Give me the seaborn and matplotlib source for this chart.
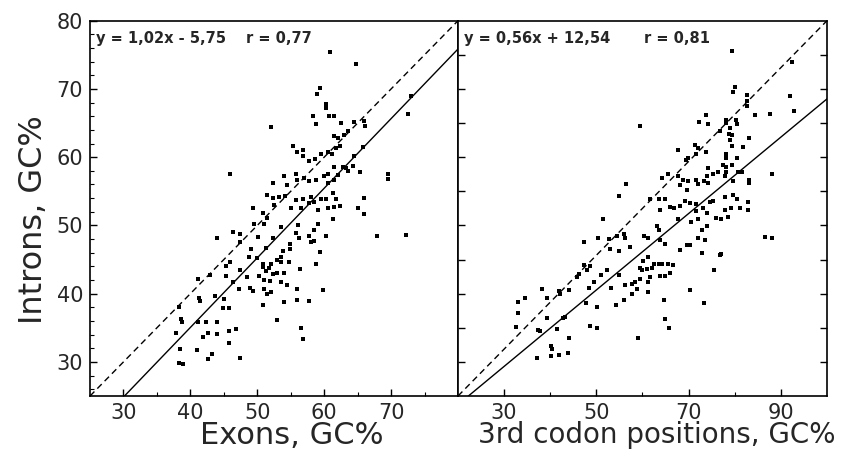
import matplotlib
matplotlib.use("Agg")
import matplotlib.pyplot as plt
import seaborn as sns
import pandas as pd

# exons GC% vs introns GC%
exon_gc = [60.8, 64.8, 59.4, 58.9, 60.3, 60.3, 58.3, 60.7, 61.5, 58.8, 62.5, 64.5, 66.0, 66.1,
           73.0, 72.5, 52.1, 63.5, 63.0, 62.0, 61.5, 62.3, 61.8, 55.3, 56.0, 56.8, 56.8, 57.8,
           58.7, 59.5, 60.5, 61.1, 65.8, 64.5, 62.8, 63.5, 64.3, 65.3, 45.9, 69.5, 69.6, 61.5,
           60.5, 60.0, 62.0, 52.3, 54.0, 55.8, 56.0, 57.0, 57.8, 58.8, 60.5, 61.4, 54.5, 51.4,
           52.4, 53.3, 54.1, 52.5, 55.8, 56.8, 58.0, 58.5, 59.5, 60.3, 61.3, 61.8, 49.4, 50.8,
           51.5, 55.0, 56.5, 57.8, 59.0, 60.5, 61.5, 62.3, 65.0, 66.0, 65.9, 49.5, 51.0, 56.1,
           59.0, 61.3, 53.5, 58.5, 44.0, 46.4, 47.4, 47.4, 50.1, 52.3, 55.8, 56.3, 57.8, 58.0,
           58.5, 60.3, 49.0, 51.3, 54.9, 54.9, 53.9, 59.3, 58.8, 53.5, 53.6, 54.8, 53.0, 48.8,
           49.9, 50.8, 50.8, 52.0, 51.8, 51.3, 52.3, 53.0, 54.0, 50.3, 51.0, 51.9, 53.5, 54.5,
           48.5, 47.4, 56.4, 45.3, 45.9, 45.3, 46.3, 47.3, 48.9, 49.4, 51.0, 51.5, 52.1, 50.8,
           54.0, 55.9, 56.0, 57.7, 59.8, 41.1, 42.9, 41.3, 41.5, 43.7, 45.0, 44.8, 45.8, 38.3,
           38.6, 38.8, 41.1, 42.3, 44.0, 37.9, 42.7, 44.0, 41.9, 45.8, 46.8, 45.8, 38.5, 41.0,
           43.3, 42.6, 47.4, 38.3, 38.9, 53.0, 56.5, 56.9, 67.9, 72.3, 63.3]
intron_gc_1 = [75.4, 73.6, 70.2, 69.3, 67.8, 67.2, 66.1, 66.0, 66.1, 64.8, 65.0, 65.1, 65.3, 64.6,
               68.9, 66.3, 64.4, 63.8, 63.3, 62.8, 63.1, 61.7, 61.3, 61.7, 60.8, 61.0, 60.2, 59.5,
               59.8, 60.5, 60.8, 60.5, 61.5, 60.1, 58.6, 58.0, 58.7, 57.9, 57.6, 57.5, 56.8, 58.6,
               57.6, 57.2, 57.4, 56.2, 57.3, 57.6, 56.7, 56.9, 56.5, 56.7, 56.2, 56.7, 55.9, 54.5,
               54.0, 54.1, 54.3, 53.0, 53.7, 53.8, 54.2, 53.5, 53.8, 53.8, 54.7, 53.8, 52.6, 51.8,
               51.1, 52.5, 52.5, 53.3, 52.2, 52.5, 52.7, 52.8, 52.6, 54.0, 51.7, 50.2, 50.2, 50.1,
               50.2, 51.0, 49.7, 49.4, 48.1, 49.1, 48.8, 47.5, 48.3, 48.2, 48.9, 48.1, 48.4, 47.5,
               47.7, 48.5, 46.5, 46.7, 47.3, 46.6, 46.2, 46.1, 44.4, 45.4, 44.7, 44.6, 45.0, 45.3,
               45.2, 44.4, 43.9, 44.4, 43.8, 43.3, 42.9, 43.1, 43.1, 42.6, 42.0, 41.8, 41.7, 41.2,
               42.4, 43.4, 43.6, 44.1, 44.7, 42.6, 41.7, 40.7, 40.9, 40.4, 40.7, 40.0, 40.3, 38.3,
               38.8, 40.7, 39.1, 38.9, 40.6, 42.1, 42.8, 39.4, 38.9, 39.7, 39.2, 37.9, 37.9, 38.1,
               36.3, 35.9, 35.9, 35.9, 35.9, 34.3, 34.3, 34.1, 33.7, 34.6, 34.8, 32.8, 31.9, 31.7,
               31.1, 30.4, 30.6, 29.9, 29.7, 36.2, 34.9, 33.3, 48.4, 48.6, 58.4]

# 3rd codon positions GC% vs introns GC%
codon3_gc = [79.5, 92.4, 80.0, 79.6, 82.7, 82.7, 82.7, 91.9, 84.3, 87.7, 92.9, 73.7, 72.3, 74.2,
             59.4, 78.1, 78.1, 80.2, 80.5, 76.7, 78.9, 78.8, 79.3, 78.9, 79.3, 83.2, 81.8, 71.4,
             72.1, 71.7, 73.7, 67.6, 69.9, 69.4, 78.2, 78.1, 80.5, 74.2, 77.5, 78.2, 80.8, 79.5,
             88.1, 81.5, 83.1, 83.1, 78.1, 77.8, 79.6, 73.9, 75.3, 76.4, 73.4, 74.3, 71.7, 72.1,
             68.8, 68.1, 69.9, 69.7, 67.6, 64.2, 65.6, 56.5, 55.0, 61.7, 63.5, 63.7, 64.9, 66.0,
             66.8, 68.1, 69.2, 70.3, 71.7, 73.2, 74.6, 75.3, 77.8, 79.6, 80.4, 77.8, 79.2, 81.1,
             82.9, 82.9, 71.7, 73.9, 72.1, 76.0, 77.1, 78.5, 51.4, 63.2, 67.6, 70.6, 73.9, 72.8,
             47.4, 50.3, 52.7, 54.5, 55.9, 56.3, 57.2, 54.8, 53.0, 60.4, 61.3, 63.5, 63.8, 64.9,
             69.6, 70.3, 68.1, 72.1, 73.5, 72.8, 77.1, 76.7, 75.5, 86.5, 88.1, 47.3, 48.0, 46.2,
             45.8, 48.7, 49.4, 48.3, 50.9, 52.3, 53.2, 54.8, 56.3, 56.0, 54.3, 57.7, 58.4, 59.5,
             59.5, 60.2, 61.3, 62.4, 63.5, 64.2, 65.6, 66.7, 59.9, 60.9, 62.0, 61.7, 61.3, 63.7,
             64.9, 66.0, 61.3, 58.8, 57.7, 64.7, 64.9, 65.8, 70.4, 73.3, 59.1, 32.9, 32.9, 34.5,
             32.5, 38.3, 39.2, 39.3, 37.8, 37.3, 41.9, 42.2, 44.0, 42.8, 43.3, 41.4, 44.0, 40.2,
             40.4, 40.1, 41.9, 43.8, 37.1, 48.6, 50.1, 47.8, 50.1]
intron_gc_2 = [75.5, 73.9, 70.3, 69.6, 69.1, 68.3, 67.5, 68.9, 66.2, 66.3, 66.7, 66.2, 65.1, 64.9,
               64.5, 65.5, 65.0, 65.5, 64.8, 63.8, 64.3, 63.4, 63.2, 62.5, 61.7, 62.8, 61.5, 61.8,
               61.3, 60.5, 60.8, 61.0, 59.9, 59.6, 60.5, 59.9, 59.9, 58.4, 58.8, 58.6, 57.9, 58.8,
               57.5, 57.8, 56.7, 56.2, 57.9, 57.2, 56.5, 57.2, 57.5, 57.8, 56.5, 56.2, 56.7, 56.0,
               56.7, 55.9, 56.5, 55.2, 57.2, 56.9, 57.6, 56.1, 54.3, 53.9, 53.8, 52.3, 53.9, 52.7,
               52.6, 52.8, 53.6, 53.3, 53.1, 52.6, 53.5, 53.6, 54.1, 54.5, 53.8, 52.3, 52.5, 52.5,
               53.4, 52.3, 52.1, 51.8, 50.9, 51.1, 50.9, 51.3, 51.0, 49.9, 50.9, 50.5, 49.9, 49.3,
               47.6, 48.2, 48.0, 48.4, 48.8, 48.2, 46.8, 46.3, 46.5, 48.4, 48.2, 49.4, 47.9, 47.3,
               47.1, 47.1, 46.4, 48.1, 47.9, 46.0, 45.8, 45.6, 43.5, 48.3, 48.1, 44.2, 43.4, 42.9,
               42.5, 44.1, 41.7, 40.9, 42.7, 43.4, 40.9, 42.7, 41.2, 39.0, 38.4, 39.9, 41.7, 42.1,
               43.8, 44.8, 45.3, 44.3, 44.4, 44.3, 44.4, 44.2, 43.4, 43.6, 43.7, 42.4, 41.7, 42.6,
               42.6, 43.0, 40.2, 40.7, 41.4, 39.1, 36.3, 35.0, 40.6, 38.7, 33.5, 38.8, 37.1, 39.4,
               35.1, 40.7, 39.4, 36.5, 34.5, 34.7, 40.4, 39.9, 40.5, 36.5, 36.6, 34.8, 33.5, 32.3,
               31.9, 30.8, 31.0, 31.3, 30.6, 35.2, 35.0, 38.6, 38.0]

# regression lines printed on the panels
fit_1 = {"slope": 1.02, "intercept": -5.75, "r": 0.77}
fit_2 = {"slope": 0.56, "intercept": 12.54, "r": 0.81}
eq_labels = ["y = 1,02x - 5,75", "y = 0,56x + 12,54"]
r_labels = ["r = 0,77", "r = 0,81"]
y_ticks = [30, 40, 50, 60, 70, 80]
x_ticks_1 = [30, 40, 50, 60, 70]
x_ticks_2 = [30, 50, 70, 90]

df1 = pd.DataFrame({"x": exon_gc, "y": intron_gc_1})
df2 = pd.DataFrame({"x": codon3_gc, "y": intron_gc_2})

sns.set_style("ticks")
plt.rcParams["font.family"] = ["DejaVu Sans"]

fig = plt.figure(figsize=(8.43, 4.53), dpi=100)
ax1 = fig.add_axes([0.1068, 0.1258, 0.4365, 0.8285])
ax2 = fig.add_axes([0.5433, 0.1258, 0.4377, 0.8285])

panels = [(ax1, df1, fit_1, (25, 80)), (ax2, df2, fit_2, (20, 100))]
for i, (ax, d, fit, xl) in enumerate(panels):
    sns.scatterplot(data=d, x="x", y="y", ax=ax, marker="s", s=10,
                    color="black", linewidth=0)
    ax.axline((0, fit["intercept"]), slope=fit["slope"], color="black", lw=1.0)
    # diagonal, corner to corner
    ax.plot([0, 1], [0, 1], transform=ax.transAxes, color="black", lw=1.0,
            linestyle=(0, (4.5, 3)))
    ax.set_xlim(*xl)
    ax.set_ylim(25, 80)
    ax.text(0.017, 0.953, eq_labels[i], transform=ax.transAxes, fontsize=10.5,
            fontweight="bold", va="center")
    ax.text(0.423 if i == 0 else 0.504, 0.953, r_labels[i], transform=ax.transAxes,
            fontsize=10.5, fontweight="bold", va="center")
    for sp in ax.spines.values():
        sp.set_visible(True)
        sp.set_linewidth(1.2)
        sp.set_color("black")
    ax.tick_params(which="both", direction="in", color="black", labelsize=15, pad=5)
    ax.tick_params(which="major", length=5, width=1)
    ax.tick_params(which="minor", length=3, width=0.8)

ax1.set_xticks(x_ticks_1)
ax1.set_xticks([35, 45, 55, 65, 75], minor=True)
ax1.set_yticks(y_ticks)
ax1.set_yticks(range(26, 80, 2), minor=True)
ax1.tick_params(axis="y", which="both", left=True, right=False)

ax2.set_xticks(x_ticks_2)
ax2.set_xticks([40, 60, 80], minor=True)
ax2.set_yticks(range(30, 80, 5))
ax2.set_yticks([], minor=True)
ax2.tick_params(axis="y", which="both", left=True, right=True, labelleft=False)

ax1.set_xlabel("Exons, GC%", fontsize=22)
ax1.xaxis.set_label_coords(0.548, -0.067)
ax1.set_ylabel("Introns, GC%", fontsize=23)
ax1.yaxis.set_label_coords(-0.111, 0.469)
ax2.set_xlabel("3rd codon positions, GC%", fontsize=20)
ax2.xaxis.set_label_coords(0.538, -0.067)
ax2.set_ylabel("")

fig.savefig("out.png", dpi=100)
